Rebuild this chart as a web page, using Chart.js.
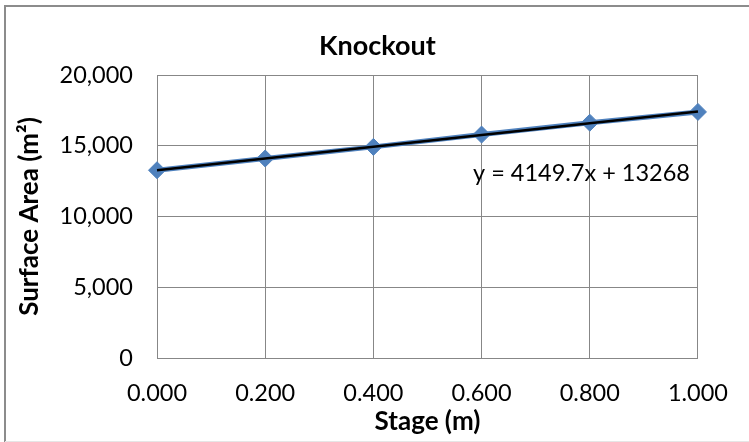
<!DOCTYPE html>
<html>
<head>
<meta charset="utf-8">
<script src="https://cdn.jsdelivr.net/npm/chart.js@4"></script>
<style>
  html, body { margin: 0; padding: 0; background: #ffffff; }
  #wrap { width: 749px; height: 442px; position: relative; }
</style>
</head>
<body>
<div id="wrap"><canvas id="chart" width="749" height="442"></canvas></div>
<script>
// Stage (m) vs. surface area (m²) for the Knockout pond
const stages = [0.0, 0.2, 0.4, 0.6, 0.8, 1.0];
const surfaceArea = [13270, 14100, 14920, 15790, 16630, 17390];

// Linear trendline: y = 4149.7x + 13268
const trendSlope = 4149.7;
const trendIntercept = 13268;
const trendRange = [0.0, 1.0];

// Axis ticks
const xTicks = [0.0, 0.2, 0.4, 0.6, 0.8, 1.0];
const yTicks = [0, 5000, 10000, 15000, 20000];

const chartTitle = 'Knockout';

const FONT = 'Lato, "Open Sans", "Liberation Sans", sans-serif';
const GRID = '#878787';

// Outer frame, chart title and the trendline equation label
const extras = {
  id: 'extras',
  afterDraw(chart) {
    const ctx = chart.ctx;
    const area = chart.chartArea;
    ctx.save();
    ctx.strokeStyle = '#8c8c8c';
    ctx.lineWidth = 2;
    ctx.beginPath();
    ctx.moveTo(5, 442);
    ctx.lineTo(5, 6);
    ctx.lineTo(749, 6);
    ctx.stroke();
    ctx.strokeStyle = '#e6e6e6';
    ctx.lineWidth = 1;
    ctx.beginPath();
    ctx.moveTo(5, 441.5);
    ctx.lineTo(749, 441.5);
    ctx.stroke();

    ctx.fillStyle = '#000000';
    ctx.textAlign = 'center';
    ctx.textBaseline = 'middle';
    ctx.font = 'bold 27px ' + FONT;
    ctx.fillText(chartTitle, 377.5, 46);

    ctx.font = '23.5px ' + FONT;
    ctx.textAlign = 'left';
    ctx.textBaseline = 'alphabetic';
    const eq = 'y = ' + trendSlope.toFixed(1) + 'x + ' + trendIntercept;
    ctx.fillText(eq, area.left + 316, area.top + 106);
    ctx.restore();
  }
};

new Chart(document.getElementById('chart'), {
  type: 'scatter',
  data: {
    datasets: [
      {
        label: 'Linear trend',
        data: trendRange.map(x => ({ x: x, y: trendIntercept + trendSlope * x })),
        showLine: true,
        borderColor: '#000000',
        borderWidth: 2.5,
        pointRadius: 0,
        clip: false,
        order: 0
      },
      {
        label: 'Surface Area',
        data: stages.map((x, i) => ({ x: x, y: surfaceArea[i] })),
        showLine: true,
        borderColor: '#4F81BD',
        backgroundColor: '#4F81BD',
        borderWidth: 5,
        pointStyle: 'rectRot',
        pointRadius: 8.5,
        pointBorderWidth: 1,
        pointBorderColor: '#4F81BD',
        clip: false,
        order: 1
      }
    ]
  },
  options: {
    responsive: false,
    animation: false,
    devicePixelRatio: 1,
    layout: { padding: { left: 5, right: 45, top: 75, bottom: 0 } },
    plugins: {
      legend: { display: false },
      tooltip: { enabled: false },
      title: { display: false }
    },
    scales: {
      x: {
        type: 'linear',
        min: 0,
        max: 1,
        afterBuildTicks: s => { s.ticks = xTicks.map(v => ({ value: v })); },
        afterFit: s => { s.height = 84; },
        grid: { color: GRID, lineWidth: 1, drawTicks: false },
        border: { display: true, color: GRID, width: 1 },
        ticks: {
          color: '#000000',
          font: { family: FONT, size: 23.5 },
          padding: 21,
          maxRotation: 0,
          callback: v => Number(v).toFixed(3)
        },
        title: {
          display: true,
          text: 'Stage (m)',
          color: '#000000',
          font: { family: FONT, size: 26, weight: 'bold', lineHeight: 1.2 },
          padding: { top: 0, bottom: 4.4 }
        }
      },
      y: {
        type: 'linear',
        min: 0,
        max: 20000,
        afterBuildTicks: s => { s.ticks = yTicks.map(v => ({ value: v })); },
        afterFit: s => { s.width = 152; },
        grid: { color: GRID, lineWidth: 1, drawTicks: false },
        border: { display: true, color: GRID, width: 1 },
        ticks: {
          color: '#000000',
          font: { family: FONT, size: 23.5 },
          padding: 24,
          callback: v => Number(v).toLocaleString('en-US')
        },
        title: {
          display: true,
          text: 'Surface Area (m²)',
          color: '#000000',
          font: { family: FONT, size: 26, weight: 'bold', lineHeight: 1.2 },
          padding: { top: 9.4, bottom: 0 }
        }
      }
    }
  },
  plugins: [extras]
});
</script>
</body>
</html>
